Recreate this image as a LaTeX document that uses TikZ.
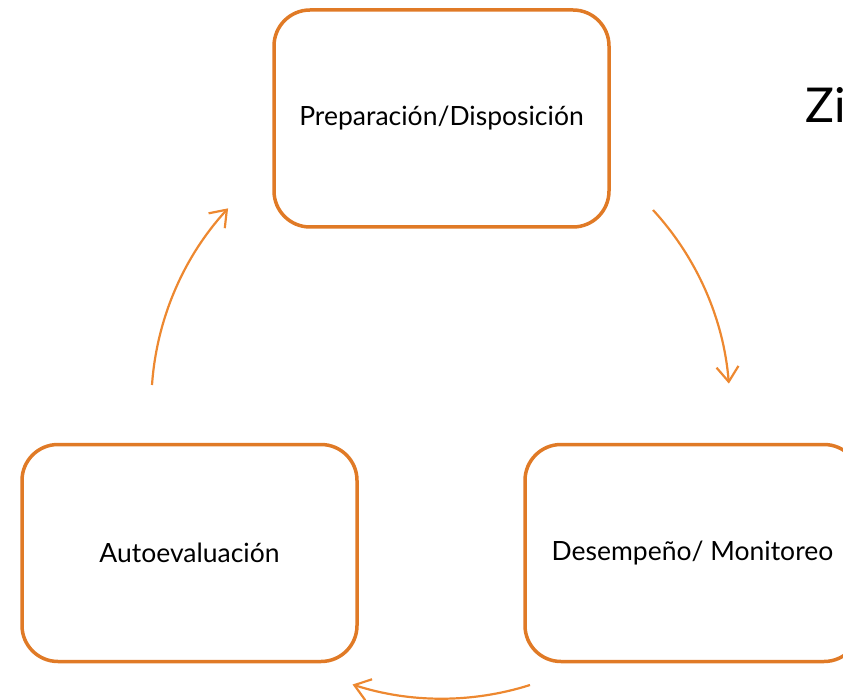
\documentclass[tikz,border=0pt]{standalone}
\usepackage{fontspec}
\setmainfont{Lato}
\usetikzlibrary{arrows.meta}
\definecolor{boxc}{RGB}{224,122,38}
\definecolor{arrc}{RGB}{237,136,48}
\begin{document}
\begin{tikzpicture}[x=1pt,y=-1pt,
  stagebox/.style={draw=boxc, line width=3.5pt, rounded corners=36pt,
    minimum width=335pt, minimum height=217pt, inner sep=0pt,
    font=\fontsize{26.5}{30}\selectfont, text=black},
  cyclearrow/.style={draw=arrc, line width=2.2pt,
    -{Straight Barb[length=15pt,width=22pt,line width=2.2pt]}}]
\useasboundingbox (0,0) rectangle (843,700);
\clip (0,0) rectangle (843,700);
\node[stagebox] (prep) at (441.5,118.5) {Preparación/Disposición};
\node[stagebox] (auto) at (189.5,553) {Autoevaluación};
\node[stagebox] (desem) at (692.5,553) {Desempeño/ Monitoreo};
\node[anchor=base west, inner sep=0pt, font=\fontsize{48}{54}\selectfont] (title) at (805,122.7) {Zi};
\coordinate (a1) at (653,210);
\coordinate (b1) at (530,685);
\coordinate (c1) at (152,385);
\draw[cyclearrow] (a1) arc[start angle=-42.6, end angle=-4.6, radius=291];
\draw[cyclearrow] (b1) arc[start angle=72.4, end angle=107.9, radius=291];
\draw[cyclearrow] (c1) arc[start angle=-176, end angle=-137.4, radius=291];
\end{tikzpicture}
\end{document}
